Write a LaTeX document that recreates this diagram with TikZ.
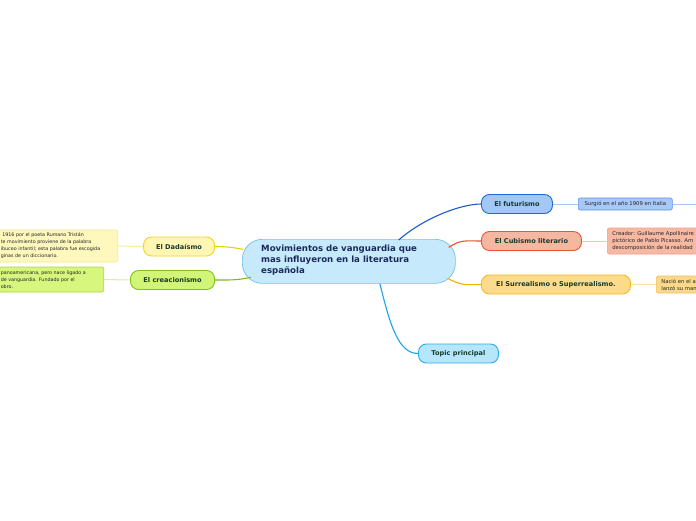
\documentclass[tikz,border=0pt]{standalone}
\usepackage{fontspec}
\setmainfont{DejaVu Sans}
\definecolor{cfill}{HTML}{C6EAFC}\definecolor{cbord}{HTML}{74C2E8}
\definecolor{navy}{HTML}{1B2A5A}\definecolor{lbl}{HTML}{173A2C}
\definecolor{futF}{HTML}{A3C8F6}\definecolor{futB}{HTML}{1B6CD6}\definecolor{futL}{HTML}{1A5CC8}
\definecolor{surF}{HTML}{A8C8F8}\definecolor{surB}{HTML}{5B92E6}\definecolor{surL}{HTML}{A8C8F0}
\definecolor{cubF}{HTML}{F6B7A0}\definecolor{cubB}{HTML}{E4563C}\definecolor{cubL}{HTML}{E8502E}
\definecolor{creF}{HTML}{F7B9A3}\definecolor{creB}{HTML}{EEA08A}\definecolor{creL}{HTML}{F5C0B0}
\definecolor{srrF}{HTML}{FCDC8C}\definecolor{srrB}{HTML}{F6B820}\definecolor{srrL}{HTML}{F5B000}
\definecolor{nacF}{HTML}{FCD98A}\definecolor{nacB}{HTML}{F0C060}\definecolor{nacL}{HTML}{FCE0A0}
\definecolor{topF}{HTML}{B5E6FB}\definecolor{topB}{HTML}{2AAEE6}\definecolor{topL}{HTML}{1AA6E6}
\definecolor{dadF}{HTML}{FFF6B4}\definecolor{dadB}{HTML}{EFD726}\definecolor{dadL}{HTML}{E6D200}
\definecolor{dtxF}{HTML}{FFF8BD}\definecolor{dtxB}{HTML}{F6EA90}\definecolor{dtxL}{HTML}{F8EE9A}
\definecolor{crcF}{HTML}{D2F477}\definecolor{crcB}{HTML}{82C21A}\definecolor{crcL}{HTML}{86B81E}
\definecolor{ctxF}{HTML}{D6F67E}\definecolor{ctxB}{HTML}{A8D848}\definecolor{ctxL}{HTML}{D8EEB0}
\tikzset{
  topicbox/.style={draw, line width=0.9pt, rounded corners=8pt, minimum height=19pt,
    inner sep=0pt, text=lbl, font=\fontsize{6.6}{7}\selectfont\bfseries},
  notebox/.style={draw, line width=0.6pt, rounded corners=2pt, inner sep=0pt,
    font=\fontsize{4.8}{7}\selectfont, text=black!85, align=left},
  rnote/.style={notebox, font=\fontsize{5.3}{7}\selectfont},
  conn/.style={line width=1.1pt},
  thin/.style={line width=1pt}
}
\begin{document}
\begin{tikzpicture}[x=1pt,y=-1pt]
\clip (0,0) rectangle (696,520);
\fill[white] (0,0) rectangle (696,520);
% central
\node[draw=cbord, fill=cfill, line width=0.7pt, rounded corners=20pt, minimum width=213pt,
  minimum height=44pt, inner sep=0pt, anchor=north west] (c) at (242,239) {};
\node[anchor=north west, align=left, text=navy, font=\fontsize{8.6}{11}\selectfont\bfseries,
  inner sep=0pt] (ct) at (261,244.5) {Movimientos de vanguardia que\\mas influyeron en la literatura\\española};
% right topics
\node[topicbox, draw=futB, fill=futF, minimum width=71pt, anchor=west] (fut) at (481,204) {El futurismo};
\node[topicbox, draw=cubB, fill=cubF, minimum width=100pt, anchor=west] (cub) at (481,241) {El Cubismo literario};
\node[topicbox, draw=srrB, fill=srrF, minimum width=149pt, anchor=west] (srr) at (481,284.5) {El Surrealismo o Superrealismo.};
\node[topicbox, draw=topB, fill=topF, minimum width=80pt, anchor=west] (top) at (418,353.5) {Topic principal};
% left topics
\node[topicbox, draw=dadB, fill=dadF, minimum width=71pt, anchor=east] (dad) at (215,246.5) {El Dadaísmo};
\node[topicbox, draw=crcB, fill=crcF, minimum width=84pt, anchor=east] (crc) at (215,280) {El creacionismo};
% notes right
\node[rnote, draw=surB, fill=surF, minimum width=94pt, minimum height=12pt, anchor=west, align=center] (sur) at (578,204) {Surgió en el año 1909 en Italia};
\coordinate (surEnd) at (697,204);
\node[notebox, draw=creB, fill=creF, minimum width=120pt, minimum height=26pt, anchor=west] (cre) at (607,241) {};
\node[anchor=west, rnote, draw=none, fill=none] (cret) at (612,241) {Creador: Guillaume Apollinaire\\pictórico de Pablo Picasso. Am\\descomposición de la realidad};
\node[notebox, draw=nacB, fill=nacF, minimum width=80pt, minimum height=17pt, anchor=west] (nac) at (656,284.5) {};
\node[anchor=west, rnote, draw=none, fill=none] (nact) at (661,284.5) {Nació en el a\\lanzó su man};
% notes left
\node[notebox, draw=dtxB, fill=dtxF, minimum width=160pt, minimum height=32pt, anchor=east] (dtx) at (118,246) {};
\node[anchor=west, notebox, draw=none, fill=none] (dtxt) at (0.5,246) {\ 1916 por el poeta Rumano Tristán\\te movimiento proviene de la palabra\\ibuceo infantil; esta palabra fue escogida\\ginas de un diccionario.};
\node[notebox, draw=ctxB, fill=ctxF, minimum width=160pt, minimum height=25pt, anchor=east] (ctx) at (104,279.5) {};
\node[anchor=west, notebox, draw=none, fill=none] (ctxt) at (0.5,279.5) {panoamericana, pero nace ligado a\\de vanguardia. Fundado por el\\obro.};
% connectors
\draw[conn, futL] (c.north east) ++(-57,1) .. controls +(25,-22) and +(-20,0) .. (fut.west);
\draw[conn, cubL] (c.east) ++(-7,-14) .. controls +(12,-8) and +(-15,0) .. (cub.west);
\draw[conn, srrL] (c.east) ++(-8,17) .. controls +(15,8) and +(-15,0) .. (srr.west);
\draw[conn, topL] (c.south) ++(31,0) .. controls +(10,40) and +(-20,0) .. (top.west);
\draw[conn, dadL] (c.west) ++(1,-12) .. controls +(-10,-2) and +(10,0) .. (dad.east);
\draw[conn, crcL] (c.west) ++(9,16) .. controls +(-15,3) and +(15,0) .. (crc.east);
\draw[thin, surL] (fut.east) -- (sur.west);
\draw[thin, surL] (sur.east) -- (surEnd);
\draw[thin, creL] (cub.east) -- (cre.west);
\draw[thin, nacL] (srr.east) -- (nac.west);
\draw[thin, dtxL] (dad.west) -- (dtx.east);
\draw[thin, ctxL] (crc.west) -- (ctx.east);
\end{tikzpicture}
\end{document}
